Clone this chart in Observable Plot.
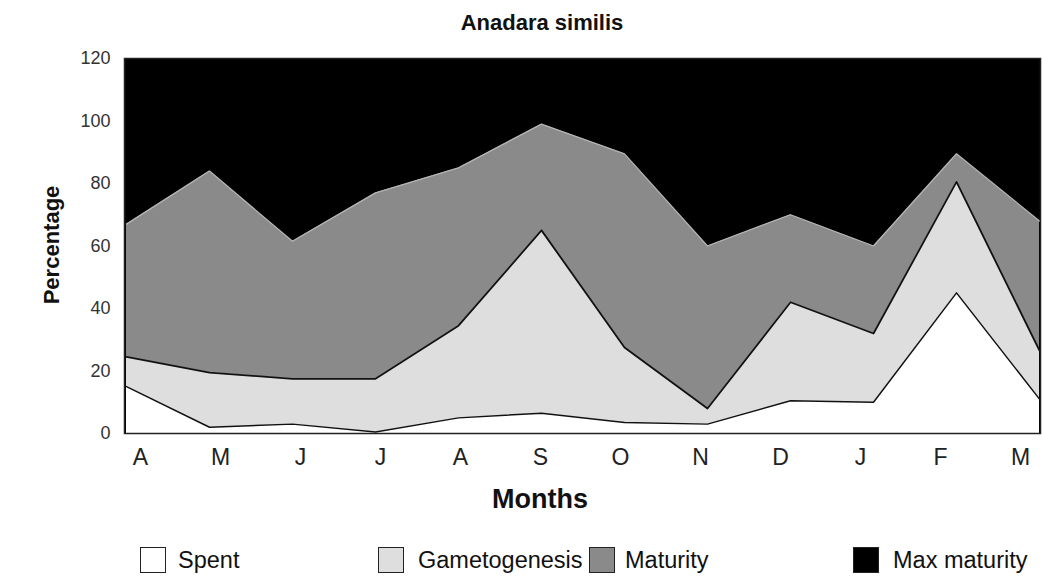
<!DOCTYPE html>
<html>
<head>
<meta charset="utf-8">
<script src="https://cdn.jsdelivr.net/npm/d3@7"></script>
<script src="https://cdn.jsdelivr.net/npm/@observablehq/plot@0.6"></script>
<style>
  html, body { margin: 0; padding: 0; background: #fff; }
  #wrap { position: relative; width: 1042px; height: 581px; font-family: "Liberation Sans", Arial, sans-serif; color: #111; overflow: hidden; }
  .abs { position: absolute; }
  #title { left: 542px; top: 11px; transform: translateX(-50%); font-size: 22px; font-weight: bold; white-space: nowrap; line-height: 24px; }
  #ylab { left: 52px; top: 245px; transform: translate(-50%, -50%) rotate(-90deg); font-size: 22px; font-weight: bold; white-space: nowrap; }
  #xlab { left: 540px; top: 484px; transform: translateX(-50%); font-size: 27px; font-weight: bold; white-space: nowrap; line-height: 30px; }
  .sw { width: 26px; height: 26px; border: 1px solid #222; box-sizing: border-box; }
  .lt { font-size: 23.5px; white-space: nowrap; line-height: 26px; }
</style>
</head>
<body>
<div id="wrap">
  <div id="title" class="abs">Anadara similis</div>
  <div id="ylab" class="abs">Percentage</div>
  <div id="xaxis" class="abs" style="left:0;top:441px"></div>
  <div id="main" class="abs" style="left:0;top:0"></div>
  <div id="xlab" class="abs">Months</div>
  <div id="legend"></div>
</div>
<script>
// Months (April to March)
const months = ["A", "M", "J", "J", "A", "S", "O", "N", "D", "J", "F", "M"];
// Cumulative upper boundaries (%) of each stage
const spentTop         = [15, 2, 3, 0.5, 5, 6.5, 3.5, 3, 10.5, 10, 45, 11];
const gametogenesisTop = [24.5, 19.5, 17.5, 17.5, 34.5, 65, 27.5, 8, 42, 32, 80.5, 26.5];
const maturityTop      = [67, 84, 61.5, 77, 85, 99, 89.5, 60, 70, 60, 89.5, 68];
const yTicks = [0, 20, 40, 60, 80, 100, 120];
const stages = ["Spent", "Gametogenesis", "Maturity", "Max maturity"];
const stageColors = ["#ffffff", "#dedede", "#8a8a8a", "#000000"];

const idx = d3.range(months.length);
const rows = idx.map(i => ({
  i,
  spent: spentTop[i],
  gam: gametogenesisTop[i],
  mat: maturityTop[i]
}));

const main = Plot.plot({
  width: 1042,
  height: 460,
  marginTop: 58,
  marginBottom: 27,
  marginLeft: 124,
  marginRight: 2,
  style: { fontFamily: "Liberation Sans, Arial, sans-serif", background: "transparent" },
  x: { type: "point", domain: idx, padding: 0, axis: null },
  y: { domain: [0, 120], axis: null },
  marks: [
    Plot.frame({ fill: stageColors[3] }),
    Plot.areaY(rows, { x: "i", y1: 0, y2: "mat", fill: stageColors[2] }),
    Plot.areaY(rows, { x: "i", y1: 0, y2: "gam", fill: stageColors[1] }),
    Plot.areaY(rows, { x: "i", y1: 0, y2: "spent", fill: stageColors[0] }),
    Plot.lineY(rows, { x: "i", y: "mat", stroke: "#b5b5b5", strokeWidth: 1.2 }),
    Plot.lineY(rows, { x: "i", y: "gam", stroke: "#111", strokeWidth: 1.8 }),
    Plot.lineY(rows, { x: "i", y: "spent", stroke: "#111", strokeWidth: 1.5 }),
    Plot.frame({ stroke: "#222", strokeWidth: 1.5 }),
    Plot.axisY({ ticks: yTicks, tickSize: 0, tickPadding: 14, fontSize: 18, fill: "#333", label: null })
  ]
});
document.getElementById("main").appendChild(main);

const xaxis = Plot.plot({
  width: 1042,
  height: 40,
  marginTop: 1,
  marginBottom: 39,
  marginLeft: 135,
  marginRight: 17,
  style: { fontFamily: "Liberation Sans, Arial, sans-serif", background: "transparent" },
  x: { type: "point", domain: idx, padding: 0 },
  marks: [
    Plot.axisX({ tickSize: 0, tickPadding: 6, fontSize: 23, fill: "#222", label: null, tickFormat: i => months[i] })
  ]
});
document.getElementById("xaxis").appendChild(xaxis);

// Legend
const legendPos = [
  { box: 140, text: 178 },
  { box: 378, text: 418 },
  { box: 589, text: 625 },
  { box: 853, text: 893 }
];
const leg = document.getElementById("legend");
stages.forEach((s, k) => {
  const b = document.createElement("div");
  b.className = "abs sw";
  b.style.left = legendPos[k].box + "px";
  b.style.top = "547px";
  b.style.background = stageColors[k];
  leg.appendChild(b);
  const t = document.createElement("div");
  t.className = "abs lt";
  t.style.left = legendPos[k].text + "px";
  t.style.top = "547px";
  t.textContent = s;
  leg.appendChild(t);
});
</script>
</body>
</html>
